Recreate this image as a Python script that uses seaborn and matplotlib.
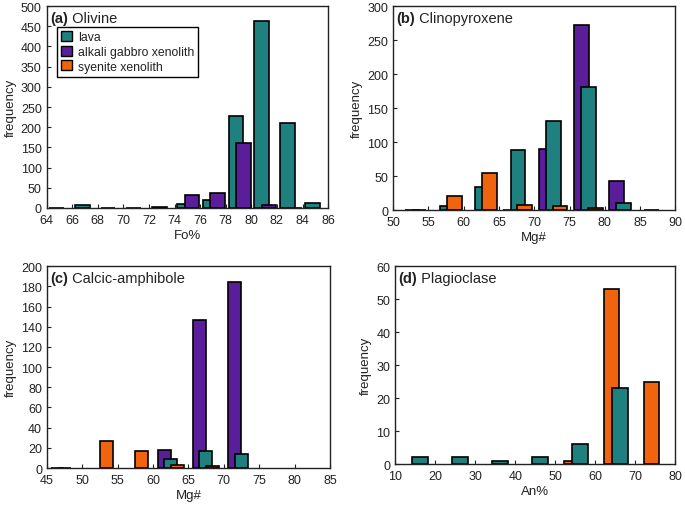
import matplotlib
matplotlib.use("Agg")
import matplotlib.pyplot as plt
from matplotlib.patches import Patch
import seaborn as sns
import pandas as pd
import numpy as np

# series names and colours
series = ["lava", "alkali gabbro xenolith", "syenite xenolith"]
colors = {"lava": "#1f8080", "alkali gabbro xenolith": "#5a1e9b", "syenite xenolith": "#f0640f"}

# (a) Olivine, Fo%, bin width 2 (bin starts)
ol_lava_bins = [64, 66, 68, 70, 72, 74, 76, 78, 80, 82, 84]
ol_lava_freq = [0, 8, 1, 1, 3, 10, 20, 228, 462, 210, 12]
ol_gab_bins = [74, 76, 78, 80, 82]
ol_gab_freq = [33, 36, 160, 8, 0]

# (b) Clinopyroxene, Mg#, bin width 5
cpx_lava_bins = [50, 55, 60, 65, 70, 75, 80]
cpx_lava_freq = [0, 6, 34, 88, 131, 181, 11]
cpx_gab_bins = [65, 70, 75, 80, 85]
cpx_gab_freq = [0, 90, 272, 42, 0]
cpx_sye_bins = [50, 55, 60, 65, 70, 75]
cpx_sye_freq = [0, 20, 55, 7, 6, 3]

# (c) Calcic-amphibole, Mg#, bin width 5
amp_lava_bins = [45, 60, 65, 70]
amp_lava_freq = [0, 9, 17, 14]
amp_gab_bins = [45, 60, 65, 70]
amp_gab_freq = [0, 18, 147, 184]
amp_sye_bins = [50, 55, 60, 65]
amp_sye_freq = [27, 17, 3, 2]

# (d) Plagioclase, An%, bin width 10
pl_lava_bins = [10, 20, 30, 40, 50, 60]
pl_lava_freq = [2, 2, 1, 2, 6, 23]
pl_sye_bins = [50, 60, 70]
pl_sye_freq = [1, 53, 25]

sns.set_theme(style="ticks")
plt.rcParams["font.family"] = ["Liberation Sans", "DejaVu Sans"]
plt.rcParams["text.color"] = "#222222"
plt.rcParams["axes.labelcolor"] = "#222222"
plt.rcParams["xtick.color"] = "#222222"
plt.rcParams["ytick.color"] = "#222222"


def draw(ax, name, bins, freq, offset, width):
    df = pd.DataFrame({"x": np.array(bins, dtype=float) + offset, "y": freq})
    sns.barplot(data=df, x="x", y="y", ax=ax, native_scale=True, width=width,
                color=colors[name], saturation=1, errorbar=None,
                edgecolor="black", linewidth=1.2)


def style(ax, tag, title, xlabel, xlim, xstep, ylim, ystep):
    ax.set_xlim(*xlim)
    ax.set_ylim(*ylim)
    ax.set_xticks(np.arange(xlim[0], xlim[1] + 0.01, xstep))
    ax.set_yticks(np.arange(ylim[0], ylim[1] + 0.01, ystep))
    ax.tick_params(direction="in", length=3, width=0.8, labelsize=9)
    ax.tick_params(axis="x", pad=4.5)
    ax.tick_params(axis="y", pad=3.5)
    for s in ax.spines.values():
        s.set_linewidth(1.0)
        s.set_color("#222222")
    ax.set_xlabel(xlabel, fontsize=9.5, labelpad=2)
    ax.set_ylabel("frequency", fontsize=9.5, labelpad=3)
    t = ax.text(0.012, 0.975, tag, transform=ax.transAxes, fontsize=10.5,
                fontweight="bold", va="top", ha="left")
    ax.annotate(" " + title, xy=(1, 0), xycoords=t, va="bottom", ha="left",
                fontsize=10.5)


fig = plt.figure(figsize=(6.85, 5.06), dpi=100)
ax_a = fig.add_axes([0.068, 0.587, 0.411, 0.399])
ax_b = fig.add_axes([0.574, 0.583, 0.412, 0.403])
ax_c = fig.add_axes([0.0686, 0.073, 0.413, 0.399])
ax_d = fig.add_axes([0.577, 0.081, 0.409, 0.391])

# (a)
draw(ax_a, "lava", ol_lava_bins, ol_lava_freq, 0.8, 0.575)
draw(ax_a, "alkali gabbro xenolith", ol_gab_bins, ol_gab_freq, 1.37, 0.575)
style(ax_a, "(a)", "Olivine", "Fo%", (64, 86), 2, (0, 500), 50)
handles = [Patch(facecolor=colors[s], edgecolor="black", linewidth=1.0, label=s) for s in series]
leg = ax_a.legend(handles=handles, loc="upper left", bbox_to_anchor=(0.037, 0.896),
                  borderaxespad=0, fontsize=8.8, handlelength=0.85, handleheight=0.85,
                  handletextpad=0.5, labelspacing=0.2, borderpad=0.35, fancybox=False,
                  framealpha=1)
leg.get_frame().set_edgecolor("black")
leg.get_frame().set_linewidth(1.0)

# (b)
draw(ax_b, "alkali gabbro xenolith", cpx_gab_bins, cpx_gab_freq, 1.65, 0.42)
draw(ax_b, "lava", cpx_lava_bins, cpx_lava_freq, 2.7, 0.42)
draw(ax_b, "syenite xenolith", cpx_sye_bins, cpx_sye_freq, 3.65, 0.42)
style(ax_b, "(b)", "Clinopyroxene", "Mg#", (50, 90), 5, (0, 300), 50)

# (c)
draw(ax_c, "alkali gabbro xenolith", amp_gab_bins, amp_gab_freq, 1.55, 0.37)
draw(ax_c, "lava", amp_lava_bins, amp_lava_freq, 2.45, 0.37)
draw(ax_c, "syenite xenolith", amp_sye_bins, amp_sye_freq, 3.4, 0.37)
style(ax_c, "(c)", "Calcic-amphibole", "Mg#", (45, 85), 5, (0, 200), 20)

# (d)
draw(ax_d, "syenite xenolith", pl_sye_bins, pl_sye_freq, 4.05, 0.39)
draw(ax_d, "lava", pl_lava_bins, pl_lava_freq, 6.15, 0.39)
style(ax_d, "(d)", "Plagioclase", "An%", (10, 80), 10, (0, 60), 10)

fig.savefig("out.png", dpi=100)
